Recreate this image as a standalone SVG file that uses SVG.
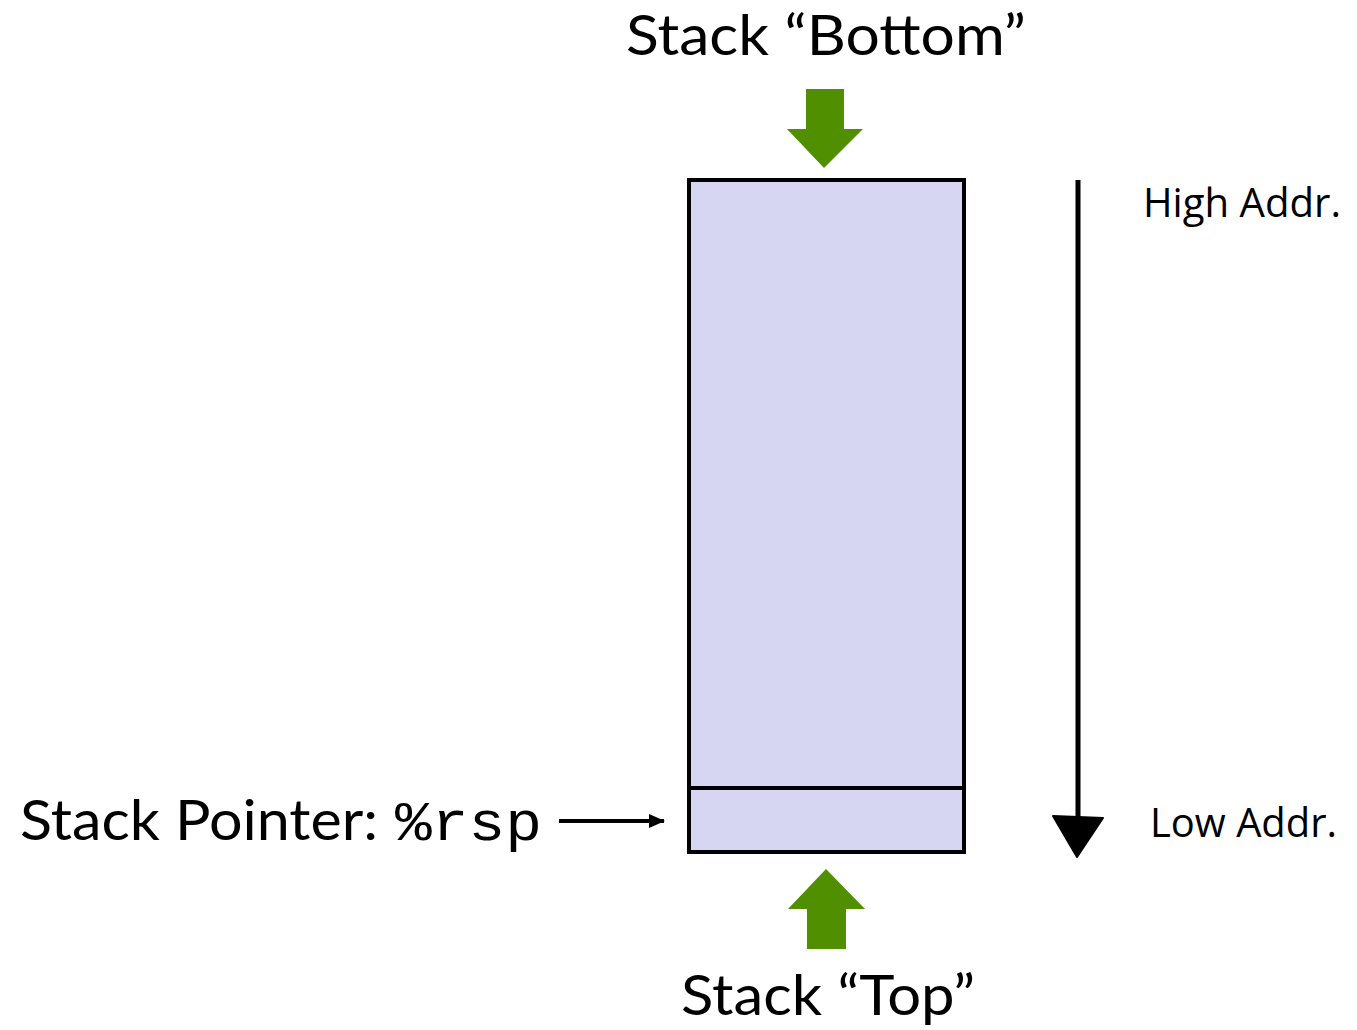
<svg xmlns="http://www.w3.org/2000/svg" width="1357" height="1030" viewBox="0 0 1357 1030">
<style>
.title{font-family:Lato,"Liberation Sans",sans-serif;font-size:56px;fill:#000}
.addr{font-family:"Open Sans","Liberation Sans",sans-serif;font-size:40px;fill:#000}
.mono{font-family:"Liberation Mono",monospace;font-size:56px;fill:#000;font-weight:300}
.green{fill:#4f8f00}
</style>
<defs>
<marker id="ah" markerWidth="16" markerHeight="14" refX="15" refY="7" orient="auto" markerUnits="userSpaceOnUse">
<path d="M0,0 L16,7 L0,14 z" fill="#000"/>
</marker>
</defs>
<rect width="1357" height="1030" fill="#fff"/>
<g id="stack">
<rect x="689" y="180" width="275" height="672" fill="#d6d6f2" stroke="#000" stroke-width="4"/>
<line x1="689" y1="788" x2="964" y2="788" stroke="#000" stroke-width="4"/>
</g>
<g id="bottom-label">
<text class="title" x="626" y="55" textLength="400" lengthAdjust="spacingAndGlyphs">Stack “Bottom”</text>
</g>
<g id="bottom-arrow">
<path class="green" d="M806,89 H844 V129 H863 L824,168 L787,129 H806 Z"/>
</g>
<g id="top-arrow">
<path class="green" d="M826,869 L865,909 H846 V949 H807 V909 H788 Z"/>
</g>
<g id="top-label">
<text class="title" x="681" y="1015" textLength="294" lengthAdjust="spacingAndGlyphs">Stack “Top”</text>
</g>
<g id="sp-label">
<text class="title" x="20" y="840" textLength="358" lengthAdjust="spacingAndGlyphs">Stack Pointer:</text>
<text class="mono" x="395" y="840" textLength="147" lengthAdjust="spacingAndGlyphs">%rsp</text>
</g>
<g id="high-addr">
<text class="addr" x="1143" y="217" textLength="198" lengthAdjust="spacingAndGlyphs">High Addr.</text>
</g>
<g id="low-addr">
<text class="addr" x="1150" y="837" textLength="187" lengthAdjust="spacingAndGlyphs">Low Addr.</text>
</g>
<g id="connectors">
<line x1="559" y1="821" x2="664" y2="821" stroke="#000" stroke-width="4" marker-end="url(#ah)"/>
<line x1="1078" y1="180" x2="1078" y2="822" stroke="#000" stroke-width="5"/>
<path d="M1053,816 L1103,818 L1077,857 Z" fill="#000" stroke="#000" stroke-width="2" stroke-linejoin="round"/>
</g>
</svg>
